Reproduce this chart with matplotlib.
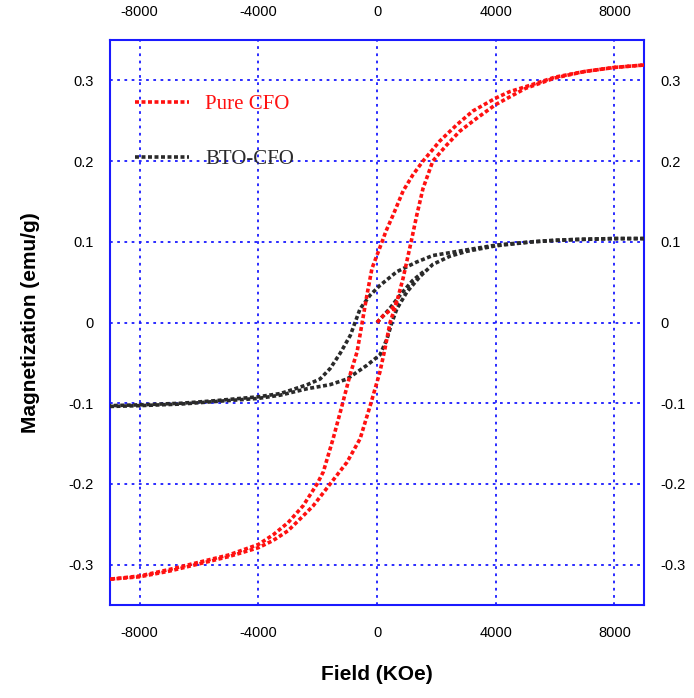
import matplotlib
matplotlib.use("Agg")
import matplotlib.pyplot as plt

plt.rcParams["axes.unicode_minus"] = False

# Pure CFO: virgin curve, descending branch (+H -> -H), ascending branch (-H -> +H)
cfo_virgin_h = [0, 200, 500, 700]
cfo_virgin_m = [0.0, 0.008, 0.017, 0.028]

cfo_down_h = [9000, 8000, 7000, 6000, 5000, 4470, 4000, 3230, 2690, 2120, 1550, 1210,
              880, 540, 300, 170, -170, -340, -500, -670, -910, -1180, -1480, -1810,
              -2020, -2490, -3000, -3500, -4000, -5000, -6000, -7000, -8000, -9000]
cfo_down_m = [0.319, 0.316, 0.311, 0.304, 0.292, 0.286, 0.278, 0.262, 0.245, 0.225, 0.2, 0.183,
              0.163, 0.133, 0.113, 0.1, 0.067, 0.034, 0.0, -0.036, -0.065, -0.103, -0.144, -0.185,
              -0.2, -0.227, -0.248, -0.263, -0.275, -0.288, -0.297, -0.306, -0.314, -0.318]

cfo_up_h = [-9000, -8000, -7000, -6000, -5000, -4000, -3500, -3000, -2500, -2150, -1580,
            -1010, -570, -230, 100, 270, 440, 670, 880, 1150, 1340, 1550, 1880, 2350,
            2790, 3360, 4000, 5000, 6000, 7000, 8000, 9000]
cfo_up_m = [-0.318, -0.315, -0.308, -0.299, -0.29, -0.279, -0.27, -0.258, -0.24, -0.227, -0.2,
            -0.173, -0.144, -0.103, -0.061, -0.032, 0.0, 0.026, 0.055, 0.1, 0.133, 0.166, 0.2, 0.22,
            0.237, 0.253, 0.27, 0.29, 0.303, 0.311, 0.316, 0.319]

# BTO-CFO composite
bto_virgin_h = [0, 400, 800, 1200, 1600]
bto_virgin_m = [0.0, 0.016, 0.035, 0.052, 0.064]

bto_down_h = [9000, 8000, 7000, 6000, 5240, 4030, 3020, 1880, 1340, 670, 100, -230, -570,
              -740, -900, -1240, -1580, -1920, -2350, -2920, -3260, -4000, -5500, -6600,
              -8000, -9000]
bto_down_m = [0.104, 0.104, 0.103, 0.102, 0.1, 0.096, 0.09, 0.083, 0.075, 0.063, 0.046, 0.034,
              0.017, 0.0, -0.016, -0.038, -0.057, -0.07, -0.077, -0.084, -0.088, -0.092, -0.097,
              -0.1, -0.102, -0.103]

bto_up_h = [-9000, -8000, -6600, -5500, -4000, -3260, -2350, -1580, -1010, -340, 100, 340,
            500, 670, 1010, 1450, 1880, 2450, 3000, 4000, 5240, 6700, 8000, 9000]
bto_up_m = [-0.104, -0.103, -0.101, -0.098, -0.094, -0.09, -0.082, -0.077, -0.07, -0.053,
            -0.04, -0.02, 0.0, 0.017, 0.038, 0.057, 0.072, 0.082, 0.088, 0.095, 0.1, 0.103,
            0.104, 0.104]

x_ticks = [-8000, -4000, 0, 4000, 8000]
y_ticks = [-0.3, -0.2, -0.1, 0, 0.1, 0.2, 0.3]
y_tick_labels = ["-0.3", "-0.2", "-0.1", "0", "0.1", "0.2", "0.3"]

red = "#ff1010"
dark = "#2a2a2a"
blue = "#1a1aff"

fig = plt.figure(figsize=(6.94, 6.98), dpi=100)
ax = fig.add_axes([0.1585, 0.1332, 0.7695, 0.8095])

dot = dict(linestyle=(0, (1.1, 0.7)), linewidth=2.6, solid_capstyle="butt")

ax.plot(bto_virgin_h, bto_virgin_m, color=dark, zorder=3, **dot)
ax.plot(bto_down_h, bto_down_m, color=dark, zorder=3, **dot)
ax.plot(bto_up_h, bto_up_m, color=dark, zorder=3, **dot)

ax.plot(cfo_virgin_h, cfo_virgin_m, color=red, zorder=4, **dot)
ax.plot(cfo_down_h, cfo_down_m, color=red, zorder=4, **dot)
ax.plot(cfo_up_h, cfo_up_m, color=red, zorder=4, **dot)

# legend entries
ax.plot([], [], color=red, label="Pure CFO", **dot)
ax.plot([], [], color=dark, label="BTO-CFO", **dot)
leg = ax.legend(loc="upper left", frameon=False, handlelength=2.6, handletextpad=0.75,
                labelspacing=1.68, bbox_to_anchor=(0.012, 0.936),
                prop={"family": "Liberation Serif", "size": 15})
for txt, c in zip(leg.get_texts(), [red, dark]):
    txt.set_color(c)

ax.set_xlim(-9000, 9000)
ax.set_ylim(-0.35, 0.35)
ax.set_xticks(x_ticks)
ax.set_yticks(y_ticks)
ax.set_yticklabels(y_tick_labels)

ax.grid(True, color=blue, linestyle=(0, (1.5, 2.5)), linewidth=1.3)
ax.set_axisbelow(True)
for s in ax.spines.values():
    s.set_color(blue)
    s.set_linewidth(1.5)

ax.tick_params(axis="both", length=0, labelsize=10.5,
               top=True, right=True, labeltop=True, labelright=True)
ax.tick_params(axis="x", pad=15)
ax.tick_params(axis="y", pad=12)
for lab in ax.get_xticklabels() + ax.get_yticklabels():
    lab.set_family("Liberation Sans")

ax.set_xlabel("Field (KOe)", fontsize=15, family="Liberation Sans",
              fontweight="bold", labelpad=18)
ax.set_ylabel("Magnetization (emu/g)", fontsize=15, family="Liberation Sans",
              fontweight="bold", labelpad=20)

fig.savefig("out.png", dpi=100)
